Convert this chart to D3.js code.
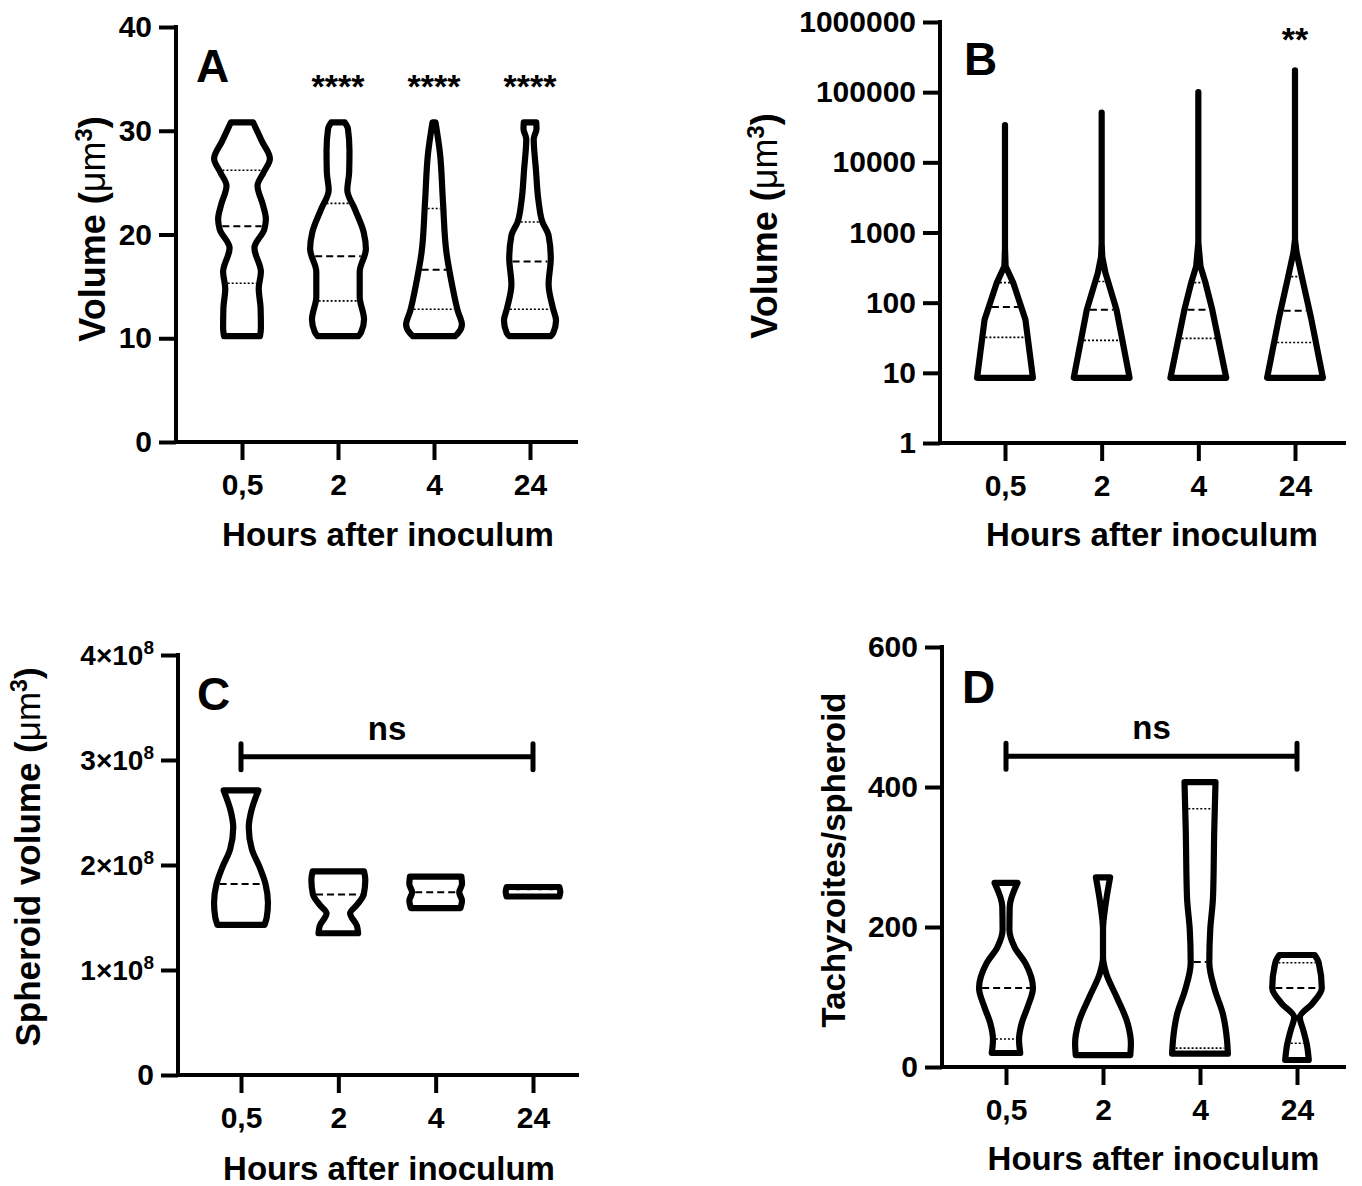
<!DOCTYPE html>
<html>
<head>
<meta charset="utf-8">
<script src="https://cdn.jsdelivr.net/npm/d3@7"></script>
<style>
  body { margin: 0; background: #fff; }
  svg { font-family: Arial, "Liberation Sans", sans-serif; }
</style>
</head>
<body>
<svg id="chart" width="1362" height="1186"></svg>
<script>
const hours = ["0,5", "2", "4", "24"]

// violin outlines: [value, relative width of the density], one list per time point
const shapesA = [
  [[10.2,0.68],[11,0.71],[12.9,0.7],[14.8,0.64],[16.4,0.71],[18.7,0.5],[20.5,0.82],[21.5,0.87],[22.8,0.78],[24.7,0.6],[26,0.8],[27.3,1.0],[29,0.74],[30.8,0.46]],
  [[10.2,0.76],[10.6,0.85],[11.8,0.94],[14,0.8],[16.4,0.8],[18.6,1.0],[20.2,0.93],[22.4,0.65],[24.3,0.4],[26,0.46],[28.1,0.47],[30.2,0.42],[30.8,0.32]],
  [[10.2,0.78],[10.5,0.88],[11.3,1.0],[12.6,0.87],[15.2,0.68],[18.3,0.5],[23.1,0.39],[27.9,0.29],[30.8,0.15]],
  [[10.2,0.77],[10.5,0.85],[11.7,0.94],[12.9,0.84],[15.2,0.7],[17.7,0.77],[19.9,0.7],[21.2,0.5],[23.1,0.38],[26.3,0.29],[29.2,0.22],[30.2,0.31],[30.8,0.3]]
]
const quartilesA = [[15.3,20.8,26.2],[13.6,17.9,23.0],[12.8,16.6,22.5],[12.8,17.4,21.2]]
const sigA = [["2","****"],["4","****"],["24","****"]]

const shapesB = [
  [[8.5,1.0],[57,0.76],[190,0.37],[330,0.12],[600,0.05],[2000,0],[34000,0]],
  [[8.5,1.0],[79,0.58],[268,0.22],[450,0.12],[700,0.04],[2000,0],[51000,0]],
  [[8.5,1.0],[79,0.55],[193,0.33],[330,0.17],[720,0.06],[2500,0],[100000,0]],
  [[8.5,1.0],[60,0.62],[235,0.32],[520,0.15],[800,0.08],[2500,0],[205000,0]]
]
const quartilesB = [[32,87,193],[29,79,200],[31,79,193],[27,77,235]]
const sigB = [["24","**"]]

const shapesC = [
  [[1.43e8,0.86],[1.5e8,0.93],[1.64e8,0.97],[1.82e8,0.89],[1.98e8,0.7],[2.15e8,0.45],[2.36e8,0.35],[2.5e8,0.42],[2.71e8,0.66]],
  [[1.35e8,0.74],[1.42e8,0.7],[1.54e8,0.48],[1.62e8,0.7],[1.72e8,0.92],[1.86e8,0.97],[1.94e8,0.93]],
  [[1.59e8,0.9],[1.66e8,0.95],[1.74e8,0.86],[1.82e8,0.95],[1.89e8,0.93]],
  [[1.70e8,0.95],[1.745e8,0.98],[1.79e8,0.95]]
]
const mediansC = [1.82e8, 1.72e8, 1.74e8, 1.75e8]

const shapesD = [
  [[20,0.56],[39,0.52],[63,0.61],[86,0.8],[113,0.97],[148,0.73],[171,0.38],[196,0.21],[229,0.22],[263,0.47]],
  [[17,0.98],[34,1.0],[63,0.89],[100,0.54],[134,0.2],[157,0.1],[196,0.09],[234,0.19],[271,0.33]],
  [[19,1.0],[39,0.97],[77,0.83],[110,0.58],[149,0.4],[196,0.43],[243,0.52],[339,0.56],[407,0.6]],
  [[10,0.48],[29,0.43],[53,0.3],[71,0.19],[91,0.6],[113,0.9],[149,0.8],[160,0.67]]
]
const quartilesD = [[40,113,229],[18,20,205],[27,150,369],[34,113,149]]

const ticksA = [0, 10, 20, 30, 40]
const ticksB = [1, 10, 100, 1000, 10000, 100000, 1000000]
const ticksC = [0, 1e8, 2e8, 3e8, 4e8]
const ticksD = [0, 200, 400, 600]

const svg = d3.select("#chart")
const black = "#000"
const outline = 6.2

function drawPanel(p) {
  const g = svg.append("g")
  const x = d3.scalePoint().domain(hours).range(p.xRange)
  const y = (p.log ? d3.scaleLog() : d3.scaleLinear()).domain(p.yDomain).range([p.bottom, p.top])
  const w = d3.scaleLinear().domain([0, 1]).range([-outline / 2, 31 - outline / 2])
  const half = v => Math.max(0, w(v))

  const ya = g.append("g")
    .attr("transform", `translate(${p.left},0)`)
    .call(d3.axisLeft(y).tickValues(p.yTicks).tickSize(17).tickSizeOuter(0).tickPadding(7).tickFormat(p.yFormat || d3.format("d")))
  g.append("g")
    .attr("transform", `translate(0,${p.bottom})`)
    .call(d3.axisBottom(x).tickSize(18).tickSizeOuter(0).tickPadding(14))
  g.selectAll(".domain").remove()
  g.selectAll(".tick line").attr("stroke", black).attr("stroke-width", 4)
  g.selectAll(".tick text")
    .attr("font-size", 30).attr("font-weight", "bold").attr("fill", black)
    .attr("font-family", "Arial, 'Liberation Sans', sans-serif")

  if (p.sci) {
    ya.selectAll(".tick text").each(function (d) {
      const t = d3.select(this).text(null)
      if (d === 0) { t.text("0"); return }
      t.append("tspan").text(`${d / 1e8}×10`).attr("font-size", 28)
      t.append("tspan").text("8").attr("font-size", 19).attr("dy", -11)
    })
  }

  g.append("line")
    .attr("x1", p.left).attr("x2", p.left).attr("y1", p.top - 2).attr("y2", p.bottom + 2)
    .attr("stroke", black).attr("stroke-width", 4)
  g.append("line")
    .attr("x1", p.left - 2).attr("x2", p.xEnd).attr("y1", p.bottom).attr("y2", p.bottom)
    .attr("stroke", black).attr("stroke-width", 4)

  p.shapes.forEach((shape, i) => {
    const cx = x(hours[i])
    const pts = shape.slice().sort((a, b) => a[0] - b[0])
    const area = d3.area()
      .y(d => y(d[0]))
      .x0(d => cx - half(d[1]))
      .x1(d => cx + half(d[1]))
      .curve(p.log ? d3.curveLinear : d3.curveMonotoneY)
    g.append("path").datum(pts)
      .attr("d", area)
      .attr("fill", "#fff").attr("stroke", black)
      .attr("stroke-width", outline).attr("stroke-linejoin", "round")

    const hw = d3.scaleLinear().domain(pts.map(d => y(d[0]))).range(pts.map(d => half(d[1])))
    const lines = p.quartiles ? p.quartiles[i].map((v, k) => [v, k === 1]) : [[p.medians[i], true]]
    lines.forEach(([v, isMedian]) => {
      const yy = y(v)
      const h = hw(yy) - outline / 2
      if (h < 1) return
      g.append("line")
        .attr("x1", cx - h).attr("x2", cx + h).attr("y1", yy).attr("y2", yy)
        .attr("stroke", p.lineColor ? p.lineColor(i) : black)
        .attr("stroke-width", isMedian ? 2 : 1.6)
        .attr("stroke-dasharray", isMedian ? "7,4" : "2,2")
    })
  })

  if (p.sig) {
    p.sig.forEach(([cat, label]) => {
      g.append("text")
        .attr("x", x(cat)).attr("y", p.sigY)
        .attr("text-anchor", "middle").attr("font-size", 34).attr("font-weight", "bold")
        .text(label)
    })
  }

  if (p.bracket) {
    const b = p.bracket
    const by = y(b.value)
    const x0 = x(b.from), x1 = x(b.to)
    g.append("path")
      .attr("d", `M${x0},${by}H${x1}M${x0},${by - 13}V${by + 13}M${x1},${by - 13}V${by + 13}`)
      .attr("stroke", black).attr("stroke-width", 5).attr("fill", "none").attr("stroke-linecap", "round")
    g.append("text")
      .attr("x", (x0 + x1) / 2).attr("y", by - 17)
      .attr("text-anchor", "middle").attr("font-size", 33).attr("font-weight", "bold")
      .text(b.label)
  }

  g.append("text")
    .attr("x", p.letter[1]).attr("y", p.letter[2])
    .attr("font-size", 46).attr("font-weight", "bold")
    .text(p.letter[0])

  g.append("text")
    .attr("x", (p.xRange[0] + p.xRange[1]) / 2 + 2).attr("y", p.xTitleY)
    .attr("text-anchor", "middle").attr("font-size", 33).attr("font-weight", "bold")
    .text("Hours after inoculum")

  const yt = g.append("text")
    .attr("transform", `translate(${p.yTitle[0]},${p.yTitle[1]}) rotate(-90)`)
    .attr("text-anchor", "middle").attr("font-size", p.yTitle[2]).attr("font-weight", "bold")
  if (p.unit) {
    yt.append("tspan").text(p.yTitleText + " (")
    yt.append("tspan").text("μm").attr("font-weight", "normal")
    yt.append("tspan").text("3").attr("font-size", p.yTitle[2] * 0.66).attr("dy", -13)
    yt.append("tspan").text(")").attr("dy", 13)
  } else {
    yt.text(p.yTitleText)
  }
}

drawPanel({
  shapes: shapesA, quartiles: quartilesA, sig: sigA, sigY: 98,
  yDomain: [0, 40], yTicks: ticksA,
  left: 176, xEnd: 578, top: 27, bottom: 442, xRange: [242, 530],
  letter: ["A", 196, 82], xTitleY: 546, yTitle: [105, 229, 36], yTitleText: "Volume", unit: true
})

drawPanel({
  shapes: shapesB, quartiles: quartilesB, sig: sigB, sigY: 51, log: true,
  yDomain: [1, 1e6], yTicks: ticksB,
  left: 940, xEnd: 1346, top: 22, bottom: 443, xRange: [1005, 1295],
  letter: ["B", 964, 75], xTitleY: 546, yTitle: [777, 226, 36], yTitleText: "Volume", unit: true
})

drawPanel({
  shapes: shapesC, medians: mediansC, sci: true,
  yDomain: [0, 4e8], yTicks: ticksC,
  left: 178, xEnd: 579, top: 655, bottom: 1075, xRange: [241, 533],
  bracket: { from: "0,5", to: "24", value: 3.03e8, label: "ns" },
  lineColor: i => i === 3 ? "#fff" : black,
  letter: ["C", 197, 710], xTitleY: 1180, yTitle: [40, 857, 35], yTitleText: "Spheroid volume", unit: true
})

drawPanel({
  shapes: shapesD, quartiles: quartilesD,
  yDomain: [0, 600], yTicks: ticksD,
  left: 942, xEnd: 1346, top: 647, bottom: 1067, xRange: [1006, 1297],
  bracket: { from: "0,5", to: "24", value: 444, label: "ns" },
  letter: ["D", 962, 703], xTitleY: 1170, yTitle: [845, 860, 33], yTitleText: "Tachyzoites/spheroid"
})
</script>
</body>
</html>
